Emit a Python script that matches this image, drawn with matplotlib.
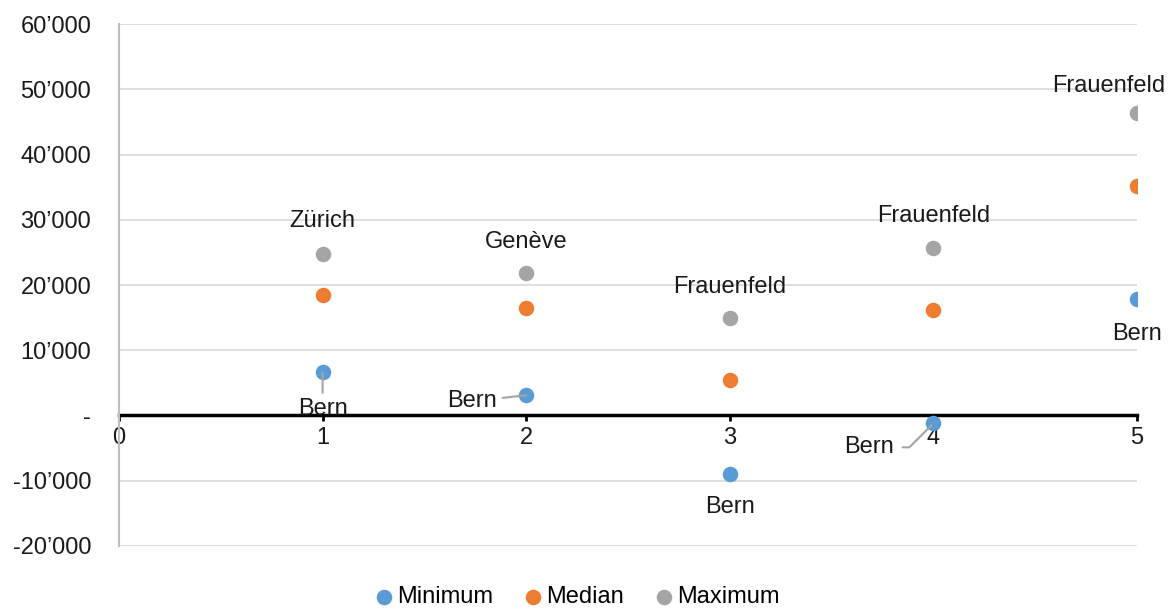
import matplotlib.pyplot as plt
from matplotlib.ticker import FuncFormatter

plt.rcParams['font.family'] = ['Liberation Sans', 'DejaVu Sans']

# values
x = [1, 2, 3, 4, 5]
minimum = [6600, 3100, -8900, -1200, 17800]
median = [18500, 16400, 5500, 16100, 35200]
maximum = [24800, 21900, 14900, 25700, 46400]
max_names = ['Zürich', 'Genève', 'Frauenfeld', 'Frauenfeld', 'Frauenfeld']
min_names = ['Bern', 'Bern', 'Bern', 'Bern', 'Bern']

c_min = '#5B9BD5'
c_med = '#ED7D31'
c_max = '#A5A5A5'
txt = '#1a1a1a'
fs = 17

fig = plt.figure(figsize=(11.69, 6.08), dpi=100)
ax = fig.add_axes([0.1018, 0.102, 0.8708, 0.8585])

ax.scatter(x, minimum, s=125, color=c_min, label='Minimum', zorder=3, linewidths=0)
ax.scatter(x, median, s=125, color=c_med, label='Median', zorder=3, linewidths=0)
ax.scatter(x, maximum, s=125, color=c_max, label='Maximum', zorder=3, linewidths=0)

ax.set_xlim(0, 5)
ax.set_ylim(-20000, 60000)
ax.set_yticks(range(-20000, 60001, 10000))
ax.set_xticks(range(0, 6))


def fmt(v, pos):
    if v == 0:
        return '-'
    return f'{int(v):,}'.replace(',', '\u2019')


ax.yaxis.set_major_formatter(FuncFormatter(fmt))
ax.grid(axis='y', color='#D9D9D9', linewidth=1.2)
ax.set_axisbelow(True)

for s in ['top', 'right']:
    ax.spines[s].set_visible(False)
ax.spines['left'].set_color('#BFBFBF')
ax.spines['left'].set_linewidth(1.5)
ax.spines['bottom'].set_position(('data', 0))
ax.spines['bottom'].set_linewidth(2.5)
ax.spines['bottom'].set_color('black')
ax.spines['bottom'].set_zorder(2)

ax.tick_params(axis='y', length=0, labelsize=fs, pad=20, labelcolor=txt)
ax.tick_params(axis='x', direction='out', length=4, width=2, color='black',
               labelsize=fs, pad=4, labelcolor=txt)

# labels above maxima
max_off = [(0, 33), (0, 31), (0, 31), (0, 32), (-28, 27)]
for xi, yi, name, off in zip(x, maximum, max_names, max_off):
    ax.annotate(name, (xi, yi), xytext=off, textcoords='offset pixels',
                ha='center', va='center', fontsize=fs, color=txt)

# labels below minima, with leader lines
min_off = [(0, -37), (-54, -6), (0, -33), (-64, -24), (0, -35)]
for i, (xi, yi, name, off) in enumerate(zip(x, minimum, min_names, min_off)):
    props = None
    if i in (0, 1):
        props = dict(arrowstyle='-', color='#A5A5A5', lw=1.5,
                     shrinkA=2, shrinkB=0)
    if i == 3:
        props = dict(arrowstyle='-', color='#A5A5A5', lw=1.5,
                     shrinkA=4, shrinkB=2,
                     connectionstyle='angle,angleA=0,angleB=45,rad=0')
    ax.annotate(name, (xi, yi), xytext=off, textcoords='offset pixels',
                ha='center', va='center', fontsize=fs, color=txt,
                arrowprops=props)

fig.legend(*ax.get_legend_handles_labels(), loc='center',
           bbox_to_anchor=(578 / 1169, 1 - 597 / 608), ncol=3,
           frameon=False, fontsize=fs, handlelength=0.6, handletextpad=0.25,
           columnspacing=1.4, borderaxespad=0)

fig.savefig('out.png', dpi=100)
